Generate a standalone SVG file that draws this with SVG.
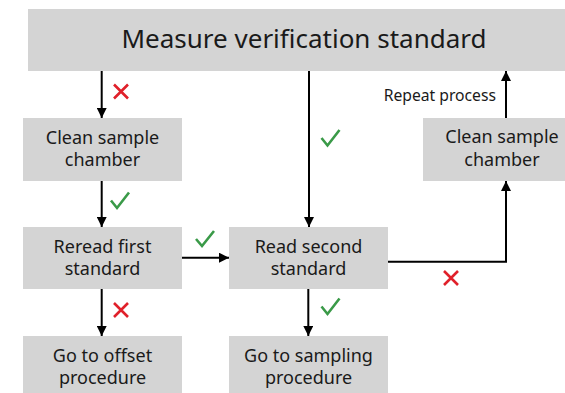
<svg xmlns="http://www.w3.org/2000/svg" width="565" height="393" viewBox="0 0 565 393">
<style>
.box{fill:#d4d4d4}
text{font-family:"Noto Sans","Liberation Sans",Arial,sans-serif;fill:#1a1a1a;text-anchor:middle}
.t{font-size:18px}
.big{font-size:26px}
.lbl{font-size:15.7px;text-anchor:end}
.ln{fill:none;stroke:#000;stroke-width:2}
.ok{fill:none;stroke:#3a9a48;stroke-width:2.6}
.no{fill:none;stroke:#e0202a;stroke-width:2.6}
</style>
<defs>
<marker id="ah" markerUnits="userSpaceOnUse" markerWidth="10" markerHeight="10" viewBox="0 0 10 10" refX="10" refY="5" orient="auto">
<path d="M0,0 L10,5 L0,10 Z" fill="#000"/>
</marker>
</defs>
<g id="connectors">
<path class="ln" d="M101.7,71 V118" marker-end="url(#ah)"/>
<path class="ln" d="M309,71 V227" marker-end="url(#ah)"/>
<path class="ln" d="M101.7,181 V227" marker-end="url(#ah)"/>
<path class="ln" d="M182,257.7 H229" marker-end="url(#ah)"/>
<path class="ln" d="M388,261.7 H506 V181" marker-end="url(#ah)"/>
<path class="ln" d="M506,118 V71" marker-end="url(#ah)"/>
<path class="ln" d="M101.7,289 V336" marker-end="url(#ah)"/>
<path class="ln" d="M308.3,289 V336" marker-end="url(#ah)"/>
<text class="lbl" x="496" y="101">Repeat process</text>
<path class="no" d="M114,84.5 L128,98.5 M128,84.5 L114,98.5"/>
<path class="no" d="M114,303 L128,317 M128,303 L114,317"/>
<path class="no" d="M444,271 L458,285 M458,271 L444,285"/>
<path class="ok" d="M111,200.5 L117,208 L129,192.5"/>
<path class="ok" d="M196,239 L202,246 L214,231"/>
<path class="ok" d="M321.5,138 L327.5,145.5 L339.5,130"/>
<path class="ok" d="M321.5,306.5 L327.5,314 L339.5,298.5"/>
</g>
<g id="n-measure">
<rect class="box" x="28" y="9" width="537" height="62"/>
<text class="big" x="304" y="48">Measure verification standard</text>
</g>
<g id="n-clean1">
<rect class="box" x="23" y="118" width="159" height="63"/>
<text class="t" x="102.5" y="143.5">Clean sample</text>
<text class="t" x="102.5" y="166">chamber</text>
</g>
<g id="n-reread">
<rect class="box" x="23" y="227" width="159" height="62"/>
<text class="t" x="102.5" y="252.5">Reread first</text>
<text class="t" x="102.5" y="275">standard</text>
</g>
<g id="n-readsecond">
<rect class="box" x="229" y="227" width="159" height="62"/>
<text class="t" x="308.5" y="252.5">Read second</text>
<text class="t" x="308.5" y="275">standard</text>
</g>
<g id="n-clean2">
<rect class="box" x="423" y="118" width="142" height="63"/>
<text class="t" x="502" y="143">Clean sample</text>
<text class="t" x="502" y="166">chamber</text>
</g>
<g id="n-offset">
<rect class="box" x="23" y="336" width="159" height="57"/>
<text class="t" x="102.5" y="361.5">Go to offset</text>
<text class="t" x="102.5" y="384">procedure</text>
</g>
<g id="n-sampling">
<rect class="box" x="229" y="336" width="159" height="57"/>
<text class="t" x="308.5" y="361.5">Go to sampling</text>
<text class="t" x="308.5" y="384">procedure</text>
</g>
</svg>
